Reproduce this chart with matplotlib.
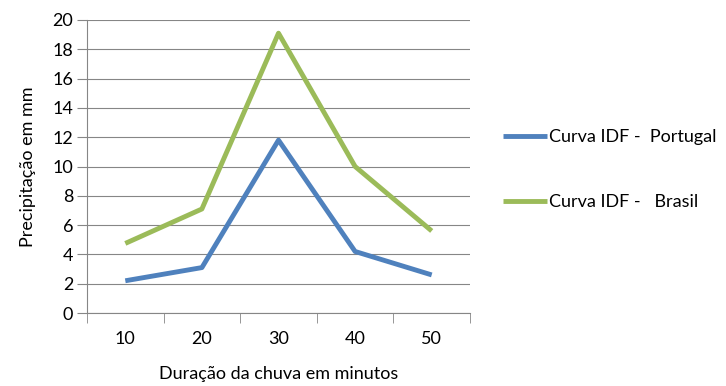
import matplotlib
matplotlib.use("Agg")
import matplotlib.pyplot as plt

# dados
duracao = ["10", "20", "30", "40", "50"]
portugal = [2.2, 3.1, 11.8, 4.2, 2.6]
brasil = [4.75, 7.1, 19.1, 10.0, 5.6]
labels = ["Curva IDF -  Portugal", "Curva IDF -   Brasil"]

plt.rcParams['font.family'] = ['Lato', 'DejaVu Sans']

fig = plt.figure(figsize=(7.26, 3.86), dpi=100)
ax = fig.add_axes([87 / 726, 73 / 386, 383 / 726, 293 / 386])

x = range(len(duracao))
ax.plot(x, portugal, color='#4F81BD', linewidth=3.5, label=labels[0], solid_capstyle='butt')
ax.plot(x, brasil, color='#9BBB59', linewidth=3.5, label=labels[1], solid_capstyle='butt')

ax.set_xlim(-0.5, len(duracao) - 0.5)
ax.set_ylim(0, 20)
ax.set_yticks(range(0, 21, 2))
ax.set_xticks(list(x))
ax.set_xticklabels(duracao)
ax.set_xticks([i - 0.5 for i in range(len(duracao) + 1)], minor=True)
ax.tick_params(axis='x', which='major', length=0, pad=13, labelsize=13)
ax.tick_params(axis='x', which='minor', length=7, color='#868686')
ax.tick_params(axis='y', length=7, color='#868686', labelsize=13, pad=3)

ax.grid(axis='y', color='#868686', linewidth=0.8)
ax.set_axisbelow(True)
for s in ['top', 'right']:
    ax.spines[s].set_visible(False)
for s in ['left', 'bottom']:
    ax.spines[s].set_color('#868686')
    ax.spines[s].set_linewidth(0.8)

ax.set_xlabel("Duração da chuva em minutos", fontsize=13, labelpad=14)
ax.set_ylabel("Precipitação em mm", fontsize=13, labelpad=12)

fig.legend(loc='upper left', bbox_to_anchor=(496 / 726, 1 - 122 / 386), frameon=False,
           fontsize=13, handlelength=2.4, handletextpad=0.15, labelspacing=2.7,
           borderaxespad=0)

fig.savefig("out.png", dpi=100)
